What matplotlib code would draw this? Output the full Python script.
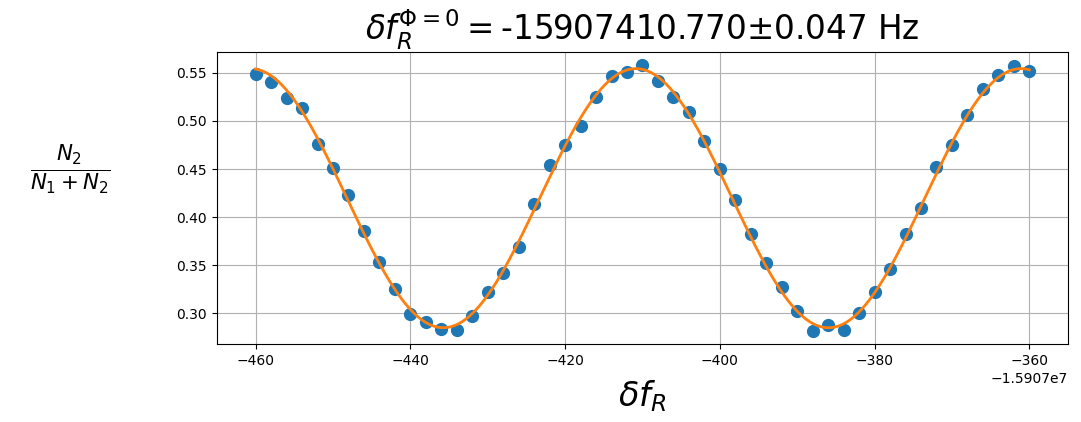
import numpy as np
import matplotlib
matplotlib.use("Agg")
import matplotlib.pyplot as plt

# detuning relative to -1.5907e7 Hz, measured every 2 Hz
f0 = -15907000.0
detuning = np.arange(-460, -358, 2)
ratio = [
    0.549, 0.540, 0.524, 0.513, 0.476, 0.451, 0.423, 0.386, 0.353, 0.325,
    0.299, 0.291, 0.284, 0.283, 0.297, 0.322, 0.342, 0.369, 0.414, 0.454,
    0.475, 0.495, 0.525, 0.547, 0.551, 0.558, 0.542, 0.525, 0.509, 0.479,
    0.450, 0.418, 0.382, 0.352, 0.327, 0.302, 0.282, 0.288, 0.283, 0.300,
    0.322, 0.346, 0.383, 0.410, 0.452, 0.475, 0.506, 0.533, 0.548, 0.557,
    0.552,
]

x = f0 + detuning
y = np.array(ratio)


def sine_fit(x, y, periods):
    # linear least squares for a + b cos + c sin, scanning the period
    best = None
    for p in periods:
        w = 2 * np.pi / p
        A = np.column_stack([np.ones_like(x), np.cos(w * x), np.sin(w * x)])
        coef, res, _, _ = np.linalg.lstsq(A, y, rcond=None)
        err = np.sum((A @ coef - y) ** 2)
        if best is None or err < best[0]:
            best = (err, p, coef)
    return best[1], best[2]


xr = x - x.mean()
period, coef = sine_fit(xr, y, np.linspace(45, 55, 2001))
xf = np.linspace(x.min(), x.max(), 500)
w = 2 * np.pi / period
yf = coef[0] + coef[1] * np.cos(w * (xf - x.mean())) + coef[2] * np.sin(w * (xf - x.mean()))

fig = plt.figure(figsize=(10.81, 4.22), dpi=100)
ax = fig.add_axes([0.2007, 0.185, 0.7873, 0.692])
ax.plot(x, y, "o", color="tab:blue", ms=8.5)
ax.plot(xf, yf, color="tab:orange", lw=2)
ax.grid(True)
ax.set_title(r"$\delta f_R^{\Phi=0}=$-15907410.770±0.047 Hz", fontsize=23.5, pad=4)
ax.set_xlabel(r"$\delta f_R$", fontsize=24, labelpad=8)
ax.set_ylabel(r"$\frac{N_2}{N_1+N_2}$", fontsize=22, rotation=0, ha="center", va="center")
ax.yaxis.set_label_coords(-0.173, 0.596)

fig.savefig("out.png", dpi=100)
